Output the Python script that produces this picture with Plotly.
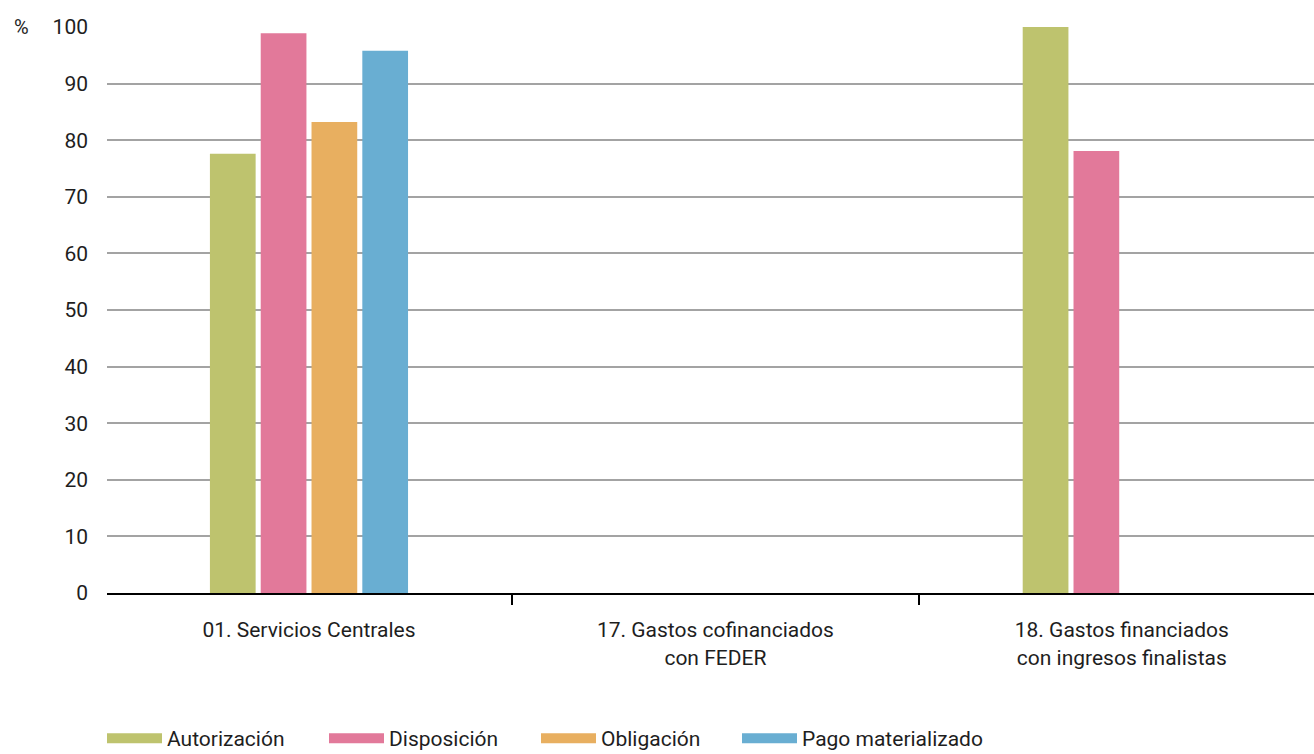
import plotly.graph_objects as go

categories = ["01. Servicios Centrales", "17. Gastos cofinanciados<br>con FEDER", "18. Gastos financiados<br>con ingresos finalistas"]
series_names = ["Autorización", "Disposición", "Obligación", "Pago materializado"]
autorizacion = [77.6, None, 100.0]
disposicion = [98.9, None, 78.1]
obligacion = [83.2, None, None]
pago = [95.8, None, None]
colors = ["#BEC36E", "#E2799A", "#E8AF60", "#69AED2"]
y_ticks = [0, 10, 20, 30, 40, 50, 60, 70, 80, 90, 100]

FONT = "Roboto"
TXT = "#1e1e1e"
PLOT_L, PLOT_W, PLOT_H = 107, 1207, 566
legend_ids = ["legend", "legend2", "legend3", "legend4"]
legend_left_px = [107, 329, 541, 742]   # left edge of each legend swatch

fig = go.Figure()
for name, vals, col, lid in zip(series_names, [autorizacion, disposicion, obligacion, pago], colors, legend_ids):
    fig.add_trace(go.Bar(x=categories, y=vals, name=name, marker=dict(color=col, line=dict(width=0)),
                         showlegend=False))
    fig.add_trace(go.Scatter(x=[None], y=[None], mode="lines", name=name, legend=lid,
                             line=dict(color=col, width=16), showlegend=True))

legend_style = dict(orientation="h", xanchor="left", y=-166 / PLOT_H, yanchor="bottom",
                    font=dict(family=FONT, size=21, color=TXT), itemwidth=55,
                    bgcolor="rgba(0,0,0,0)")
legends = {lid: dict(legend_style, x=(px - PLOT_L - 5) / PLOT_W) for lid, px in zip(legend_ids, legend_left_px)}

fig.update_layout(
    width=1314, height=754,
    margin=dict(l=PLOT_L, r=0, t=27, b=161, autoexpand=False),
    paper_bgcolor="white", plot_bgcolor="white",
    barmode="group", bargap=0.5, bargroupgap=0.1,
    font=dict(family=FONT, size=21, color=TXT),
    showlegend=True,
    xaxis=dict(type="category", range=[-0.497, 2.473], showgrid=False,
               showline=True, linecolor="black", linewidth=2,
               ticks="outside", tickson="boundaries", ticklen=10, tickwidth=1.5, tickcolor="black",
               ticklabelstandoff=17,
               tickfont=dict(family=FONT, size=21, color=TXT), fixedrange=True),
    yaxis=dict(range=[0, 100], tickvals=y_ticks, showgrid=True, gridcolor="#a3a3a3", gridwidth=1.5,
               zeroline=False, showline=False, ticks="", ticklabelstandoff=18,
               tickfont=dict(family=FONT, size=21, color=TXT), fixedrange=True),
    annotations=[dict(text="%", xref="paper", yref="y", x=0, y=100, xanchor="right", yanchor="middle",
                      xshift=-76, showarrow=False, font=dict(family=FONT, size=20, color=TXT))],
    **legends,
)

fig.write_html("out.html", config={"displayModeBar": False},
               post_script="document.body.style.margin='0';document.body.style.overflow='hidden';")
